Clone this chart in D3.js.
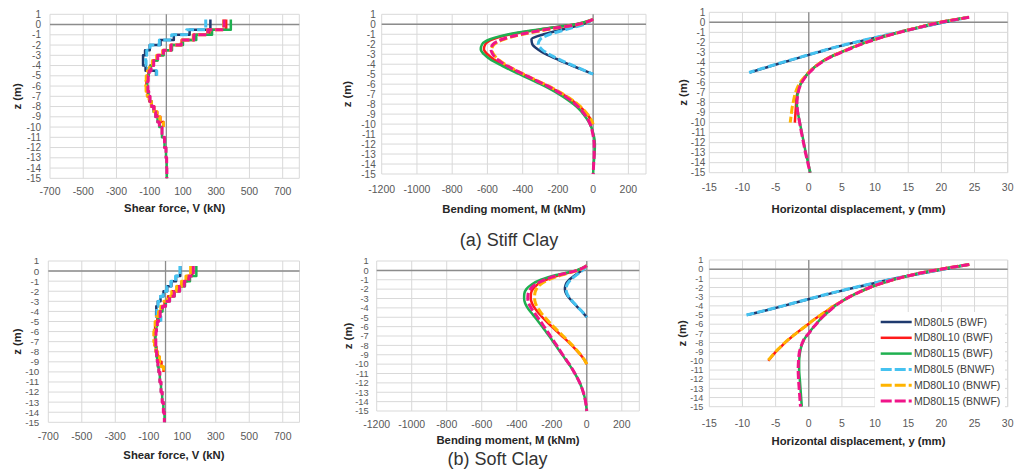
<!DOCTYPE html>
<html>
<head>
<meta charset="utf-8">
<script src="https://cdn.jsdelivr.net/npm/d3@7/dist/d3.min.js"></script>
<style>
    body { margin: 0; background: #fff; }
    svg text { font-family: Arial, "Liberation Sans", sans-serif; }
</style>
</head>
<body>
<svg id="chart" width="1016" height="472"></svg>
<script>
// depth points (m) for each pile length
const zL5 = [0.5, 0, -0.5, -1, -1.5, -2, -2.5, -3, -3.5, -4, -4.5, -5];
const zL10 = [0.5, 0, -0.5, -1, -1.5, -2, -2.5, -3, -3.5, -4, -4.5, -5, -5.5, -6, -6.5, -7, -7.5, -8, -8.5, -9, -9.5, -10];
const zL15 = [0.5, 0, -0.5, -1, -1.5, -2, -2.5, -3, -3.5, -4, -4.5, -5, -5.5, -6, -6.5, -7, -7.5, -8, -8.5, -9, -9.5, -10, -11, -12, -13, -14, -15];

const zTicks = [1, 0, -1, -2, -3, -4, -5, -6, -7, -8, -9, -10, -11, -12, -13, -14, -15];
const shearTicks = [-700, -500, -300, -100, 100, 300, 500, 700];
const momentTicks = [-1200, -1000, -800, -600, -400, -200, 0, 200];
const dispTicks = [-15, -10, -5, 0, 5, 10, 15, 20, 25, 30];

const seriesNames = ["MD80L5 (BWF)", "MD80L10 (BWF)", "MD80L15 (BWF)", "MD80L5 (BNWF)", "MD80L10 (BNWF)", "MD80L15 (BNWF)"];
const seriesColors = ["#1f3a6e", "#ff1a1a", "#1fb050", "#45c2f0", "#ffb400", "#f01489"];

// stiff clay - shear force (kN), value on each step below the depth point
const stiffV_L5_BWF = [265, 265, 140, 45, -35, -100, -128, -140, -140, -125, -62, -62];
const stiffV_L10_BWF = [360, 360, 260, 170, 92, 28, -20, -56, -80, -96, -108, -116, -120, -118, -112, -102, -88, -72, -55, -36, -18, -18];
const stiffV_L15_BWF = [388, 388, 275, 180, 100, 34, -16, -52, -78, -95, -106, -112, -115, -113, -107, -99, -89, -77, -65, -53, -42, -26, -11, -2, 2, 3, 3];
const stiffV_L5_BNWF = [237, 237, 122, 32, -42, -98, -118, -125, -122, -110, -58, -58];
const stiffV_L10_BNWF = [345, 345, 248, 162, 88, 26, -22, -58, -84, -102, -114, -121, -124, -122, -115, -104, -90, -74, -56, -38, -18, -18];
const stiffV_L15_BNWF = [347, 347, 250, 165, 90, 28, -18, -52, -76, -92, -103, -109, -112, -111, -106, -98, -88, -76, -64, -52, -42, -26, -11, -2, 2, 3, 3];

// stiff clay - bending moment (kNm)
const stiffM_L5_BWF = [0, -60, -170, -280, -350, -345, -315, -268, -205, -140, -70, 0];
const stiffM_L10_BWF = [0, -95, -290, -465, -570, -612, -620, -600, -565, -515, -460, -400, -340, -280, -225, -175, -130, -92, -60, -35, -15, 0];
const stiffM_L15_BWF = [0, -100, -300, -480, -585, -630, -638, -620, -585, -535, -478, -418, -358, -298, -243, -194, -150, -112, -80, -55, -35, -18, 2, 10, 8, 3, 0];
const stiffM_L5_BNWF = [0, -50, -150, -245, -300, -312, -292, -250, -195, -132, -66, 0];
const stiffM_L10_BNWF = [0, -80, -250, -400, -505, -560, -575, -565, -540, -500, -450, -395, -335, -275, -220, -170, -125, -88, -57, -32, -13, 0];
const stiffM_L15_BNWF = [0, -85, -260, -410, -515, -568, -580, -570, -545, -505, -452, -397, -338, -280, -226, -178, -136, -100, -72, -49, -31, -17, -2, 6, 6, 3, 0];

// stiff clay - horizontal displacement (mm)
const stiffY_L5_BWF = [24.0, 20.4, 16.9, 13.5, 10.2, 7.0, 3.9, 1.3, -1.3, -3.9, -6.4, -8.9];
const stiffY_L10_BWF = [24.1, 19.8, 16.6, 13.6, 10.9, 8.6, 6.6, 4.8, 3.1, 1.8, 0.8, 0.0, -0.6, -1.1, -1.45, -1.7, -1.85, -1.9, -1.95, -2.0, -2.05, -2.1];
const stiffY_L15_BWF = [24.1, 19.8, 16.6, 13.6, 10.9, 8.6, 6.6, 4.8, 3.1, 1.8, 0.8, 0.0, -0.6, -1.1, -1.45, -1.65, -1.75, -1.8, -1.75, -1.65, -1.5, -1.35, -1.05, -0.75, -0.45, -0.1, 0.25];
const stiffY_L5_BNWF = [24.0, 20.3, 16.8, 13.4, 10.1, 6.9, 3.9, 1.2, -1.4, -4.0, -6.5, -9.0];
const stiffY_L10_BNWF = [24.1, 19.8, 16.6, 13.6, 10.9, 8.6, 6.6, 4.8, 3.1, 1.8, 0.8, -0.05, -0.7, -1.3, -1.7, -2.0, -2.2, -2.35, -2.5, -2.6, -2.7, -2.8];
const stiffY_L15_BNWF = [24.2, 19.9, 16.7, 13.7, 11.0, 8.7, 6.7, 4.9, 3.2, 1.9, 0.9, 0.1, -0.55, -1.05, -1.4, -1.6, -1.72, -1.78, -1.75, -1.66, -1.52, -1.38, -1.1, -0.8, -0.5, -0.15, 0.2];

// soft clay - shear force (kN)
const softV_L5_BWF = [88, 88, 63, 35, 10, -12, -30, -46, -55, -56, -32, -32];
const softV_L10_BWF = [160, 160, 130, 102, 72, 42, 15, -6, -24, -38, -49, -57, -62, -64, -63, -60, -54, -46, -36, -24, -12, -12];
const softV_L15_BWF = [184, 184, 146, 116, 86, 54, 26, 2, -18, -33, -44, -51, -56, -59, -60, -59, -57, -54, -50, -46, -41, -34, -27, -20, -13, -6, -6];
const softV_L5_BNWF = [86, 86, 60, 32, 8, -14, -30, -44, -52, -52, -28, -28];
const softV_L10_BNWF = [150, 150, 122, 95, 66, 37, 11, -10, -28, -42, -54, -62, -67, -70, -70, -66, -58, -48, -36, -24, -12, -12];
const softV_L15_BNWF = [166, 166, 140, 112, 84, 52, 24, 0, -18, -32, -42, -49, -54, -57, -58, -58, -56, -53, -49, -45, -40, -34, -27, -20, -13, -7, -7];

// soft clay - bending moment (kNm)
const softM_L5_BWF = [0, -28, -66, -100, -120, -125, -117, -98, -74, -48, -22, 0];
const softM_L10_BWF = [0, -55, -155, -232, -282, -308, -319, -320, -313, -298, -278, -254, -228, -200, -171, -142, -113, -86, -60, -36, -15, 0];
const softM_L15_BWF = [0, -60, -175, -262, -315, -345, -357, -358, -352, -338, -318, -296, -275, -255, -235, -215, -196, -178, -159, -140, -121, -102, -68, -40, -20, -7, 0];
const softM_L5_BNWF = [0, -25, -60, -92, -112, -118, -112, -95, -72, -47, -22, 0];
const softM_L10_BNWF = [0, -50, -145, -218, -265, -288, -297, -298, -293, -280, -262, -240, -215, -190, -163, -135, -108, -82, -58, -35, -15, 0];
const softM_L15_BNWF = [0, -55, -160, -240, -292, -322, -335, -337, -332, -318, -300, -281, -262, -244, -226, -208, -190, -172, -155, -137, -119, -100, -68, -40, -20, -7, 0];

// soft clay - horizontal displacement (mm)
const softY_L5_BWF = [24.1, 20.4, 16.7, 13.2, 10.0, 7.0, 4.1, 1.4, -1.2, -3.8, -6.5, -9.3];
const softY_L10_BWF = [24.2, 19.9, 16.3, 13.5, 11.2, 9.2, 7.6, 6.2, 5.0, 3.8, 2.8, 1.8, 0.8, -0.1, -1.0, -1.9, -2.75, -3.55, -4.25, -4.95, -5.55, -6.1];
const softY_L15_BWF = [24.2, 19.9, 16.3, 13.5, 11.2, 9.2, 7.6, 6.2, 5.0, 4.0, 3.2, 2.4, 1.7, 1.1, 0.5, 0.0, -0.55, -0.9, -1.15, -1.3, -1.4, -1.45, -1.45, -1.35, -1.25, -1.15, -1.05];
const softY_L5_BNWF = [24.1, 20.3, 16.6, 13.1, 9.9, 6.9, 4.0, 1.3, -1.3, -3.9, -6.6, -9.4];
const softY_L10_BNWF = [24.2, 19.9, 16.3, 13.5, 11.2, 9.2, 7.6, 6.2, 5.0, 3.8, 2.8, 1.8, 0.8, -0.1, -1.0, -1.9, -2.8, -3.6, -4.3, -5.0, -5.6, -6.2];
const softY_L15_BNWF = [24.2, 19.9, 16.3, 13.5, 11.2, 9.2, 7.6, 6.2, 5.0, 4.0, 3.2, 2.4, 1.7, 1.1, 0.5, 0.0, -0.6, -0.95, -1.2, -1.4, -1.5, -1.55, -1.6, -1.55, -1.45, -1.35, -1.25];

const depths = [zL5, zL10, zL15, zL5, zL10, zL15];

let svg = d3.select("#chart");

// panel boxes
let panels = [
    { box: [50, 299.3, 14.3, 178.3], xDom: [-700, 800], ticks: shearTicks, step: true, title: "Shear force, V (kN)",
      tickY: 195, titleY: 211.5, ylabX: 17, gap: 9, yfs: 10,
      values: [stiffV_L5_BWF, stiffV_L10_BWF, stiffV_L15_BWF, stiffV_L5_BNWF, stiffV_L10_BNWF, stiffV_L15_BNWF] },
    { box: [381.7, 646, 14.3, 174], xDom: [-1200, 300], ticks: momentTicks, step: false, title: "Bending moment, M (kNm)",
      tickY: 192.5, titleY: 213, ylabX: 347, gap: 6, yfs: 10,
      values: [stiffM_L5_BWF, stiffM_L10_BWF, stiffM_L15_BWF, stiffM_L5_BNWF, stiffM_L10_BNWF, stiffM_L15_BNWF] },
    { box: [709.3, 1007.7, 12.3, 172.7], xDom: [-15, 30], ticks: dispTicks, step: false, title: "Horizontal displacement, y (mm)",
      tickY: 190.5, titleY: 213, ylabX: 683, gap: 4, yfs: 10,
      values: [stiffY_L5_BWF, stiffY_L10_BWF, stiffY_L15_BWF, stiffY_L5_BNWF, stiffY_L10_BNWF, stiffY_L15_BNWF] },
    { box: [48.3, 299.5, 261, 422.3], xDom: [-700, 800], ticks: shearTicks, step: true, title: "Shear force, V (kN)",
      tickY: 440, titleY: 459, ylabX: 17, gap: 9, yfs: 9.8,
      values: [softV_L5_BWF, softV_L10_BWF, softV_L15_BWF, softV_L5_BNWF, softV_L10_BNWF, softV_L15_BNWF] },
    { box: [376.7, 639.3, 261, 411], xDom: [-1200, 300], ticks: momentTicks, step: false, title: "Bending moment, M (kNm)",
      tickY: 428, titleY: 443.5, ylabX: 348, gap: 8, yfs: 9.3,
      values: [softM_L5_BWF, softM_L10_BWF, softM_L15_BWF, softM_L5_BNWF, softM_L10_BNWF, softM_L15_BNWF] },
    { box: [709.3, 1007.7, 260, 406.7], xDom: [-15, 30], ticks: dispTicks, step: false, title: "Horizontal displacement, y (mm)",
      tickY: 426.5, titleY: 445, ylabX: 682, gap: 6, yfs: 9.1,
      values: [softY_L5_BWF, softY_L10_BWF, softY_L15_BWF, softY_L5_BNWF, softY_L10_BNWF, softY_L15_BNWF] }
];

function drawPanel(p) {
    let [x0, x1, y0, y1] = p.box;
    let x = d3.scaleLinear().domain(p.xDom).range([x0, x1]);
    let y = d3.scaleLinear().domain([1, -15]).range([y0, y1]);
    let g = svg.append("g");

    // grid
    g.selectAll(".hgrid").data(zTicks).enter().append("line")
        .attr("x1", x0).attr("x2", x1)
        .attr("y1", d => y(d)).attr("y2", d => y(d))
        .attr("stroke", "#d9d9d9").attr("stroke-width", 1);
    g.selectAll(".vgrid").data(p.ticks.concat([p.xDom[1]])).enter().append("line")
        .attr("x1", d => x(d)).attr("x2", d => x(d))
        .attr("y1", y0).attr("y2", y1)
        .attr("stroke", "#d9d9d9").attr("stroke-width", 1);

    // zero lines
    g.append("line").attr("x1", x0).attr("x2", x1).attr("y1", y(0)).attr("y2", y(0))
        .attr("stroke", "#8c8c8c").attr("stroke-width", 1.5);
    g.append("line").attr("x1", x(0)).attr("x2", x(0)).attr("y1", y0).attr("y2", y1)
        .attr("stroke", "#8c8c8c").attr("stroke-width", 1.3);

    // tick labels
    g.selectAll(".ytl").data(zTicks).enter().append("text")
        .attr("x", x0 - p.gap).attr("y", d => y(d)).attr("dy", "0.35em")
        .attr("text-anchor", "end").attr("font-size", p.yfs).attr("fill", "#595959")
        .text(d => d);
    g.selectAll(".xtl").data(p.ticks).enter().append("text")
        .attr("x", d => x(d)).attr("y", p.tickY)
        .attr("text-anchor", "middle").attr("font-size", 10.5).attr("fill", "#595959")
        .text(d => d);

    // axis titles
    g.append("text").attr("x", (x0 + x1) / 2).attr("y", p.titleY)
        .attr("text-anchor", "middle").attr("font-size", 11.3).attr("font-weight", "bold").attr("fill", "#262626")
        .text(p.title);
    g.append("text")
        .attr("transform", `translate(${p.ylabX},${(y0 + y1) / 2}) rotate(-90)`)
        .attr("text-anchor", "middle").attr("dy", "0.35em")
        .attr("font-size", 11.3).attr("font-weight", "bold").attr("fill", "#262626")
        .text("z (m)");

    // series lines, solid BWF first then dashed BNWF on top
    let line = d3.line()
        .x(d => x(d[0])).y(d => y(d[1]))
        .curve(p.step ? d3.curveStepBefore : d3.curveMonotoneY);

    p.values.forEach((vals, i) => {
        let pts = vals.map((v, k) => [v, depths[i][k]]);
        g.append("path")
            .attr("d", line(pts))
            .attr("fill", "none")
            .attr("stroke", seriesColors[i])
            .attr("stroke-width", i < 3 ? 2.5 : 3)
            .attr("stroke-dasharray", i < 3 ? null : "8,3")
            .attr("stroke-linejoin", "round");
    });
}

panels.forEach(drawPanel);

// legend inside the last panel
let legend = svg.append("g");
legend.append("rect").attr("x", 875).attr("y", 312).attr("width", 130).attr("height", 97).attr("fill", "#fff");
seriesNames.forEach((name, i) => {
    let ly = 322 + i * 15.8;
    legend.append("line").attr("x1", 880.7).attr("x2", 911.7).attr("y1", ly).attr("y2", ly)
        .attr("stroke", seriesColors[i]).attr("stroke-width", i < 3 ? 2.5 : 3)
        .attr("stroke-dasharray", i < 3 ? null : "11,3");
    legend.append("text").attr("x", 914).attr("y", ly).attr("dy", "0.35em")
        .attr("font-size", 10.5).attr("fill", "#404040").text(name);
});

// captions
svg.append("text").attr("x", 509).attr("y", 246).attr("text-anchor", "middle")
    .attr("font-size", 18).attr("fill", "#333").text("(a) Stiff Clay");
svg.append("text").attr("x", 497.5).attr("y", 465).attr("text-anchor", "middle")
    .attr("font-size", 18).attr("fill", "#333").text("(b) Soft Clay");
</script>
</body>
</html>
